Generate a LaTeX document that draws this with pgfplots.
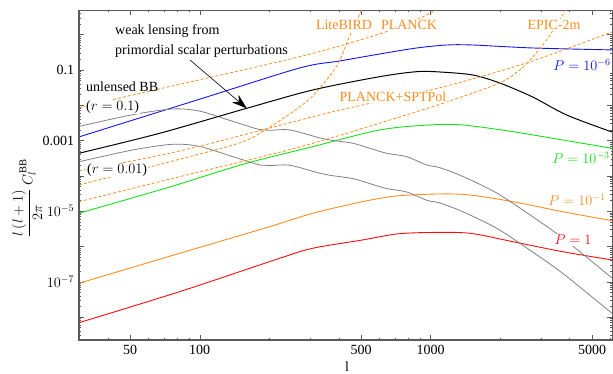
\documentclass[border=0pt]{standalone}
\usepackage{pgfplots}
\pgfplotsset{compat=1.18}
\usepackage{fontspec}
\setmainfont{Liberation Serif}
\usetikzlibrary{arrows.meta}
\definecolor{mo}{RGB}{255,140,30}
\definecolor{mgreen}{RGB}{20,225,20}
\definecolor{mblue}{RGB}{20,20,240}
\definecolor{mred}{RGB}{250,10,10}
\definecolor{mgray}{RGB}{128,128,128}
\definecolor{frame}{RGB}{90,90,90}
\begin{document}
\fontsize{14bp}{16bp}\selectfont
\begin{tikzpicture}
\useasboundingbox (-79bp,-34bp) rectangle (534bp,340bp);
\begin{axis}[at={(0,0)}, anchor=south west, scale only axis,
  width=533bp, height=330bp,
  xmode=log, ymode=log,
  xmin=30, xmax=6100, ymin=2.24e-9, ymax=5.0,
  xtick={50,100,500,1000,5000},
  xticklabels={50,100,500,1000,5000},
  minor xtick={30,40,60,70,80,90,200,300,400,600,700,800,900,2000,3000,4000,6000},
  ytick={1e-8,1e-7,1e-6,1e-5,1e-4,1e-3,1e-2,1e-1,1},
  yticklabels={,$10^{-7}$,,$10^{-5}$,,0.001,,0.1,},
  minor ytick={3e-9,4e-9,5e-9,6e-9,7e-9,8e-9,9e-9,
    2e-8,3e-8,4e-8,5e-8,6e-8,7e-8,8e-8,9e-8,
    2e-7,3e-7,4e-7,5e-7,6e-7,7e-7,8e-7,9e-7,
    2e-6,3e-6,4e-6,5e-6,6e-6,7e-6,8e-6,9e-6,
    2e-5,3e-5,4e-5,5e-5,6e-5,7e-5,8e-5,9e-5,
    2e-4,3e-4,4e-4,5e-4,6e-4,7e-4,8e-4,9e-4,
    2e-3,3e-3,4e-3,5e-3,6e-3,7e-3,8e-3,9e-3,
    2e-2,3e-2,4e-2,5e-2,6e-2,7e-2,8e-2,9e-2,
    0.2,0.3,0.4,0.5,0.6,0.7,0.8,0.9,2,3,4},
  tick align=inside,
  major tick length=5bp, minor tick length=2.5bp,
  tick style={frame, line width=0.5pt},
  axis line style={frame, line width=0.6pt},
  /pgf/number format/assume math mode=true,
  every tick label/.append style={font=\fontsize{14bp}{16bp}\selectfont},
  clip=true,
]
% blue P=1e-6
\addplot[mblue, line width=0.9bp, smooth, tension=0.5] coordinates {
(30,1.27e-3) (100,0.0149) (271,0.114) (404,0.18) (602,0.284) (870,0.42) (1173,0.51) (1520,0.51) (2764,0.42) (6100,0.37)};
% green P=1e-3
\addplot[mgreen, line width=0.9bp, smooth, tension=0.5] coordinates {
(30,8.72e-6) (67.1,3.99e-5) (81.9,5.9e-5) (159.8,2.28e-4) (308.4,6.72e-4) (601.5,2.0e-3) (990,2.77e-3) (1376,2.77e-3) (2265,1.79e-3) (3727,1.04e-3) (6100,6.05e-4)};
% orange P=1e-1
\addplot[mo, line width=0.9bp, smooth, tension=0.5] coordinates {
(30,9.08e-8) (81.9,6.41e-7) (200.9,3.64e-6) (308.4,8.72e-6) (507.6,1.86e-5) (712.5,2.70e-5) (1094,3.07e-5) (1475,2.88e-5) (2265,1.86e-5) (3727,9.68e-6) (6100,5.38e-6)};
% red P=1
\addplot[mred, line width=0.9bp, smooth, tension=0.5] coordinates {
(30,6.94e-9) (81.9,5.25e-8) (222,4.63e-7) (308.4,8.89e-7) (507.6,1.53e-6) (712.5,2.26e-6) (990,2.49e-6) (1475,2.37e-6) (2265,1.37e-6) (3727,7.12e-7) (6100,4.15e-7)};
% gray unlensed r=0.01
\addplot[mgray, line width=0.8bp, smooth, tension=0.5] coordinates {
(30,2.52e-4) (51.3,5.42e-4) (76.4,7.85e-4) (100,6.81e-4) (139,3.50e-4) (181.8,2.04e-4) (200.9,1.95e-4) (245.3,2.0e-4) (330.7,1.19e-4) (365.5,1.04e-4) (459.6,8.39e-5) (544.5,6.05e-5) (645,4.37e-5) (787,3.50e-5) (961,2.04e-5) (1094,1.71e-5) (1376,9.68e-6) (1931,3.28e-6) (2683,7.96e-7) (3727,1.74e-7) (6100,1.28e-8)};
% gray unlensed r=0.1
\addplot[mgray, line width=0.8bp, smooth, tension=0.5] coordinates {
(30,2.52e-3) (51.3,5.42e-3) (76.4,7.85e-3) (100,6.81e-3) (139,3.50e-3) (181.8,2.04e-3) (200.9,1.95e-3) (245.3,2.0e-3) (330.7,1.19e-3) (365.5,1.04e-3) (459.6,8.39e-4) (544.5,6.05e-4) (645,4.37e-4) (787,3.50e-4) (961,2.04e-4) (1094,1.71e-4) (1376,9.68e-5) (1931,3.28e-5) (2683,7.96e-6) (3727,1.74e-6) (6100,1.28e-7)};
% black lensing
\addplot[black, line width=1bp, smooth, tension=0.5] coordinates {
(30,4.37e-4) (67.1,1.61e-3) (159.8,8.22e-3) (308.4,0.0271) (601.5,0.0646) (869.7,0.0895) (1094,0.0878) (1520,0.0722) (1990,0.0428) (2764,0.0172) (3879,5.31e-3) (6100,1.75e-3)};
% dashed experiments
% PLANCK
\addplot[mo, line width=0.8bp, dash pattern=on 3bp off 2bp, smooth, tension=0.5] coordinates {
(30,8.39e-3) (51.3,0.0196) (271,0.238) (613.6,1.096) (923,3.17) (1127,6.94)};
% LiteBIRD
\addplot[mo, line width=0.8bp, dash pattern=on 3bp off 2bp, smooth, tension=0.5] coordinates {
(30,5.52e-5) (60.7,1.79e-4) (100,4.17e-4) (134.9,7.03e-4) (164.6,1.11e-3) (195,2.13e-3) (245.3,5.67e-3) (308.4,0.0183) (391.8,0.130) (446,0.918) (502.6,5.01) (523,9.6)};
% PLANCK+SPTPol
\addplot[mo, line width=0.8bp, dash pattern=on 3bp off 2bp, smooth, tension=0.5] coordinates {
(30,1.38e-4) (81.9,5.07e-4) (330.7,5.31e-3) (507.6,0.0102) (1173,0.0352) (2683,0.169) (6100,1.19)};
% EPIC-2m
\addplot[mo, line width=0.8bp, dash pattern=on 3bp off 2bp, smooth, tension=0.5] coordinates {
(30,1.86e-5) (81.9,9.49e-5) (271,6.59e-4) (734.4,4.66e-3) (1209,0.0132) (1990,0.0428) (2428,0.1) (2764,0.233) (3178,0.708) (3618,2.61) (3879,5.70)};
\end{axis}
\draw[frame, line width=1.3pt] (0,330bp) -- (0,0) -- (533bp,0);
% labels
\node[anchor=west, inner sep=0pt] at (36bp,309bp) {weak lensing from};
\node[anchor=west, inner sep=0pt] at (36bp,289bp) {primordial scalar perturbations};
\draw[black, line width=0.6bp, -{Stealth[length=15bp,width=10bp]}] (111bp,280bp) -- (167.7bp,231.7bp);
\node[anchor=west, inner sep=0pt] at (7bp,253bp) {unlensed BB};
\node[anchor=west, fill=white, inner sep=1bp] at (6bp,233bp) {($r=0.1$)};
\node[anchor=west, fill=white, inner sep=1bp] at (7bp,170bp) {($r=0.01$)};
\node[mo, fill=white, inner sep=1bp] at (265bp,315bp) {LiteBIRD};
\node[mo, fill=white, inner sep=1bp] at (330bp,315bp) {PLANCK};
\node[mo, fill=white, inner sep=1bp] at (475bp,315bp) {EPIC-2m};
\node[mo, fill=white, inner sep=1bp] at (314bp,243bp) {PLANCK+SPTPol};
\node[mblue, fill=white, inner sep=1bp] at (503bp,275bp) {$P=10^{-6}$};
\node[mgreen, fill=white, inner sep=1bp] at (502bp,182bp) {$P=10^{-3}$};
\node[mo, fill=white, inner sep=1bp] at (498bp,140bp) {$P=10^{-1}$};
\node[mred, fill=white, inner sep=1bp] at (494bp,100bp) {$P=1$};
\node[rotate=90, font=\fontsize{15bp}{17bp}\selectfont] at (-52bp,142bp) {$\displaystyle\frac{l\,(l+1)}{2\pi}\,C_l^{\,\mathrm{BB}}$};
\node at (268bp,-27bp) {l};
\end{tikzpicture}
\end{document}
